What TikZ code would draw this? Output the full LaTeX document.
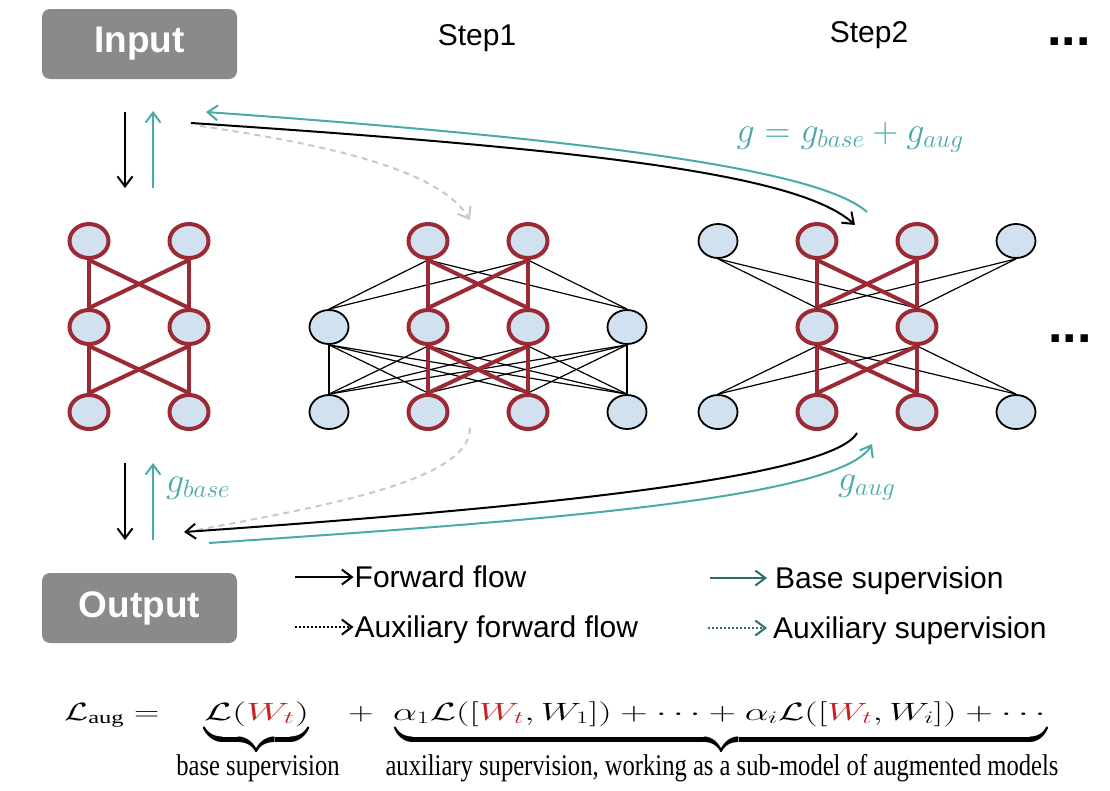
\RequirePackage{fix-cm}
\documentclass[tikz,border=0pt]{standalone}
\usepackage{fontspec}
\setmainfont{Liberation Serif}
\setsansfont{Liberation Sans}
\usepackage{amsmath}
\usepackage{graphicx}
\usepackage{tikz}
\usetikzlibrary{arrows.meta,positioning,shapes.geometric,calc}
\definecolor{boxgray}{RGB}{138,138,140}
\definecolor{neuronfill}{RGB}{210,225,240}
\definecolor{netred}{RGB}{155,42,52}
\definecolor{gradteal}{RGB}{74,170,168}
\definecolor{keyteal}{RGB}{45,110,104}
\definecolor{auxgray}{RGB}{200,200,200}
\definecolor{wred}{RGB}{200,32,36}
\tikzset{
    grad color/.style={color=gradteal},
    neuron/.style={ellipse,draw=black,line width=1.8pt,fill=neuronfill,minimum width=39pt,minimum height=34pt,inner sep=0pt},
    base neuron/.style={neuron,draw=netred,line width=4pt},
    wire/.style={line width=1.2pt},
    base wire/.style={draw=netred,line width=4pt},
    arr/.style={-{Straight Barb[length=10pt,width=15pt]},line width=2pt},
    grad arr/.style={arr,grad color},
    aux line/.style={color=auxgray,line width=2pt,dash pattern=on 6pt off 5pt},
    aux arr/.style={arr,aux line},
    io box/.style={rounded corners=8pt,fill=boxgray,text=white,minimum width=195pt,minimum height=70pt,
        font=\sffamily\bfseries\fontsize{37}{44}\selectfont},
    step label/.style={anchor=base,font=\sffamily\fontsize{30}{36}\selectfont},
    more dots/.style={anchor=base west,inner sep=0pt,font=\sffamily\bfseries\fontsize{52}{60}\selectfont},
    legend/.style={anchor=west,inner sep=1pt,text height=21pt,text depth=0pt,font=\sffamily\fontsize{30}{36}\selectfont},
    grad label/.style={grad color,inner sep=0pt,font=\fontsize{36}{43}\selectfont},
    formula/.style={anchor=base west,inner sep=0pt,font=\fontsize{25}{30}\selectfont},
    brace mark/.style={anchor=north,inner sep=0pt,font=\fontsize{25}{30}\selectfont},
    brace label/.style={anchor=base,inner sep=0pt,font=\fontsize{30}{36}\selectfont},
}

\begin{document}
\begin{tikzpicture}[x=1pt,y=-1pt]
    \useasboundingbox (0,0) rectangle (1110,790);

    % input / output and step titles
    \node[io box] (input) at (139.5,44) {Input};
    \node[io box] (output) at (139.5,608) {Output};
    \node[step label] (step1) at (477,45) {Step1};
    \node[step label] (step2) at (869,42) {Step2};
    \node[more dots] (dots top) at (1047,45) {...};
    \node[more dots] (dots mid) at (1048,342) {...};

    % base model
    \foreach \r/\y in {t/241,m/327,b/412}{
        \node[base neuron] (n1\r2) at (89,\y) {};
        \node[base neuron] (n1\r3) at (189,\y) {};
    }
    % step 1: two extra neurons in the hidden and output layer
    \foreach \c/\x in {1/329,4/627}{
        \node[neuron] (n2m\c) at (\x,327) {};
        \node[neuron] (n2b\c) at (\x,412) {};
    }
    \foreach \c/\x in {2/428,3/528}
        \foreach \r/\y in {t/241,m/327,b/412}
            \node[base neuron] (n2\r\c) at (\x,\y) {};
    % step 2: extra neurons in the input and output layer
    \foreach \c/\x in {1/718,4/1016}{
        \node[neuron] (n3t\c) at (\x,241) {};
        \node[neuron] (n3b\c) at (\x,412) {};
    }
    \foreach \c/\x in {2/817,3/917}
        \foreach \r/\y in {t/241,m/327,b/412}
            \node[base neuron] (n3\r\c) at (\x,\y) {};

    % connections
    \foreach \i in {2,3} \foreach \j in {1,4}
        \draw[wire] (n2t\i.south) -- (n2m\j.north);
    \foreach \i in {1,...,4} \foreach \j in {1,...,4}
        \draw[wire] (n2m\i.south) -- (n2b\j.north);
    \foreach \i in {1,4} \foreach \j in {2,3}{
        \draw[wire] (n3t\i.south) -- (n3m\j.north);
        \draw[wire] (n3m\j.south) -- (n3b\i.north);
    }
    \foreach \n in {1,2,3} \foreach \i in {2,3} \foreach \j in {2,3}{
        \draw[base wire] (n\n t\i.south) -- (n\n m\j.north);
        \draw[base wire] (n\n m\i.south) -- (n\n b\j.north);
    }

    % flows between input, output and the models
    \coordinate (in fwd a) at (125,112);  \coordinate (in fwd b) at (125,188);
    \coordinate (in grad a) at (153,188); \coordinate (in grad b) at (153,111);
    \coordinate (out fwd a) at (125,463); \coordinate (out fwd b) at (125,540);
    \coordinate (out grad a) at (153,540); \coordinate (out grad b) at (153,463);
    \draw[arr] (in fwd a) -- (in fwd b);
    \draw[grad arr] (in grad a) -- (in grad b);
    \draw[arr] (out fwd a) -- (out fwd b);
    \draw[grad arr] (out grad a) -- (out grad b);

    \coordinate (fwd top a) at (191,123);  \coordinate (fwd top b) at (855,225);
    \coordinate (grad top a) at (867,212); \coordinate (grad top b) at (206,112);
    \coordinate (aux top a) at (200,126);  \coordinate (aux top b) at (470,220);
    \coordinate (aux bot a) at (470,428);  \coordinate (aux bot b) at (197,530);
    \coordinate (fwd bot a) at (857,433);  \coordinate (fwd bot b) at (184,532);
    \coordinate (grad bot a) at (209,543); \coordinate (grad bot b) at (872,444);
    \draw[aux arr] (aux top a) .. controls (330,145) and (440,170) .. (aux top b);
    \draw[aux line] (aux bot a) .. controls (470,480) and (330,505) .. (aux bot b);
    \draw[arr] (fwd top a) .. controls (600,150) and (800,175) .. (fwd top b);
    \draw[grad arr] (grad top a) .. controls (820,170) and (600,140) .. (grad top b);
    \draw[arr] (fwd bot a) .. controls (830,480) and (500,510) .. (fwd bot b);
    \draw[grad arr] (grad bot a) .. controls (520,522) and (840,500) .. (grad bot b);

    \node[grad label,anchor=base] (g sum) at (850,142) {$g=g_{base}+g_{aug}$};
    \node[grad label,anchor=base west] (g base) at (166,492) {$g_{base}$};
    \node[grad label,anchor=base west] (g aug) at (838,490) {$g_{aug}$};

    % legend
    \node[legend] (fwd key) at (353.5,577) {Forward flow};
    \node[legend] (auxfwd key) at (353.5,627) {Auxiliary forward flow};
    \node[legend] (base key) at (774,578) {Base supervision};
    \node[legend] (auxsup key) at (772,628) {Auxiliary supervision};
    \draw[arr] ($(fwd key.west)+(-59,0)$) -- (fwd key.west);
    \draw[arr,dotted] ($(auxfwd key.west)+(-59,0)$) -- (auxfwd key.west);
    \draw[arr,keyteal] ($(base key.west)+(-64,0)$) -- ($(base key.west)+(-7,0)$);
    \draw[arr,keyteal,dotted] ($(auxsup key.west)+(-64,0)$) -- ($(auxsup key.west)+(-5,0)$);

    % loss
    \node[formula] (loss) at (64,720) {\scalebox{1.4}[1]{$\mathcal{L}_{\mathrm{aug}} =$}};
    \node[formula] (base term) at (204,720)
        {\scalebox{1.62}[1]{$\mathcal{L}(\textcolor{wred}{W_t})$}};
    \node[formula,anchor=base] (plus) at (361,720) {\scalebox{1.4}[1]{$+$}};
    \node[formula] (aux term) at (393,720)
        {\scalebox{1.52}[1]{$\alpha_1\mathcal{L}([\textcolor{wred}{W_t},W_1])+\cdots+\alpha_i\mathcal{L}([\textcolor{wred}{W_t},W_i])+\cdots$}};
    \node[brace mark] (base brace) at (256.5,731)
        {\scalebox{1.62}[1.85]{$\underbrace{\hphantom{\mathcal{L}(W_t)}}$}};
    \node[brace mark] (aux brace) at (721.5,731)
        {\scalebox{1.52}[1.85]{$\underbrace{\hphantom{\alpha_1\mathcal{L}([W_t,W_1])+\cdots+\alpha_i\mathcal{L}([W_t,W_i])+\cdots}}$}};
    \node[brace label] (base note) at (258,775) {\scalebox{0.82}[1]{base supervision}};
    \node[brace label] (aux note) at (722,775)
        {\scalebox{0.82}[1]{auxiliary supervision, working as a sub-model of augmented models}};
\end{tikzpicture}
\end{document}
